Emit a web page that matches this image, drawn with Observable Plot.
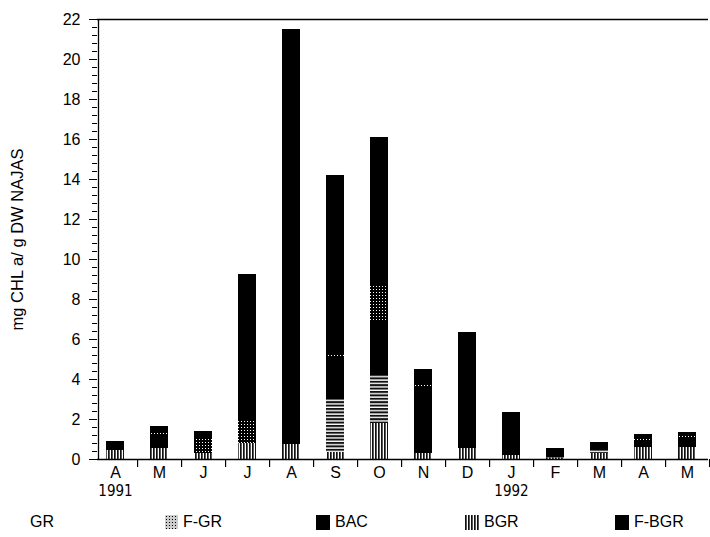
<!DOCTYPE html>
<html>
<head>
<meta charset="utf-8">
<script src="https://cdn.jsdelivr.net/npm/d3@7"></script>
<script src="https://cdn.jsdelivr.net/npm/@observablehq/plot@0.6"></script>
<style>
  html, body { margin: 0; padding: 0; background: #fff; }
  #wrap { position: relative; width: 710px; height: 537px; font-family: "Liberation Sans", Arial, sans-serif; }
  #legend { position: absolute; left: 0; top: 510px; width: 710px; height: 26px; font-size: 16px; color: #000; }
  .item { position: absolute; top: 3px; display: flex; align-items: center; gap: 5px; }
  .item svg { display: block; }
</style>
</head>
<body>
<div id="wrap"><div id="chart"></div><div id="legend"></div></div>
<script>
// ---- data ----
const monthKeys = ["1991-04","1991-05","1991-06","1991-07","1991-08","1991-09","1991-10","1991-11","1991-12","1992-01","1992-02","1992-03","1992-04","1992-05"];
const monthLabels = ["A","M","J","J","A","S","O","N","D","J","F","M","A","M"];
const yearLabels = [{key: "1991-04", text: "1991"}, {key: "1992-01", text: "1992"}];
const yAxisTitle = ["mg CHL a/ g DW NAJAS"];
const seriesOrder = ["BGR", "GR", "BAC", "F-GR", "F-BGR"];
const bgr  = [0.45, 0.55, 0.30, 0.80, 0.75, 0.35, 1.80, 0.30, 0.55, 0.20, 0.08, 0.30, 0.60, 0.60];
const gr   = [0,    0,    0,    0,    0,    2.65, 2.40, 0,    0,    0,    0,    0.15, 0,    0   ];
const bac  = [0,    0.70, 0,    0,    0,    2.10, 2.65, 3.30, 0,    0,    0.22, 0,    0.35, 0.45];
const fgr  = [0,    0.10, 0.75, 1.15, 0,    0.15, 1.85, 0.10, 0,    0,    0.05, 0,    0.10, 0.10];
const fbgr = [0.45, 0.30, 0.35, 7.30, 20.75, 8.95, 7.40, 0.80, 5.80, 2.15, 0.20, 0.40, 0.20, 0.20];
const legendNames = ["GR", "F-GR", "BAC", "BGR", "F-BGR"];
const yTicks = d3.range(0, 23, 2);
const yMinor = d3.range(0, 110).map(i => i * 0.4).filter(v => v <= 22.001);

// ---- table ----
const valuesBySeries = {"BGR": bgr, "GR": gr, "BAC": bac, "F-GR": fgr, "F-BGR": fbgr};
const table = [];
for (const s of seriesOrder) {
  monthKeys.forEach((m, i) => table.push({month: m, series: s, value: valuesBySeries[s][i]}));
}
const fills = {"BGR": "url(#pBGR)", "GR": "url(#pGR)", "BAC": "#000", "F-GR": "url(#pFGR)", "F-BGR": "#000"};
const labelOf = new Map(monthKeys.map((k, i) => [k, monthLabels[i]]));

function defsMark() {
  const defs = d3.create("svg:defs");
  const p1 = defs.append("pattern").attr("id", "pBGR").attr("patternUnits", "userSpaceOnUse").attr("width", 3).attr("height", 3);
  p1.append("rect").attr("width", 3).attr("height", 3).attr("fill", "#fff");
  p1.append("rect").attr("width", 1.7).attr("height", 3).attr("fill", "#111");
  const p2 = defs.append("pattern").attr("id", "pGR").attr("patternUnits", "userSpaceOnUse").attr("width", 3).attr("height", 3.4);
  p2.append("rect").attr("width", 3).attr("height", 3.4).attr("fill", "#fff");
  p2.append("rect").attr("width", 3).attr("height", 2).attr("fill", "#111");
  const p3 = defs.append("pattern").attr("id", "pFGR").attr("patternUnits", "userSpaceOnUse").attr("width", 3).attr("height", 3);
  p3.append("rect").attr("width", 3).attr("height", 3).attr("fill", "#000");
  p3.append("rect").attr("x", 1).attr("y", 1).attr("width", 1).attr("height", 1).attr("fill", "#fff");
  return defs.node();
}

const chart = Plot.plot({
  width: 710,
  height: 507,
  marginLeft: 97,
  marginRight: 2,
  marginTop: 19,
  marginBottom: 48,
  style: {fontFamily: "'Liberation Sans', Arial, sans-serif", fontSize: "15px", color: "#000", background: "#fff"},
  x: {domain: monthKeys, range: [105, 697], paddingInner: 0.59, paddingOuter: 0, axis: null},
  y: {domain: [0, 22], axis: null},
  color: {domain: seriesOrder, range: seriesOrder.map(s => fills[s])},
  marks: [
    defsMark,
    Plot.barY(table, {x: "month", y: "value", fill: "series"}),
    Plot.ruleY([0, 22], {stroke: "#000", strokeWidth: 1.3}),
    Plot.ruleX([monthKeys[0]], {x: d => d, dx: -17, y1: 0, y2: 22, stroke: "#000", strokeWidth: 1.3}),
    Plot.ruleX(monthKeys, {x: d => d, dx: 22.07, y1: 0, y2: -0.4, stroke: "#000", strokeWidth: 1.2}),
    Plot.axisY({ticks: yTicks, tickSize: 8, tickPadding: 9, fontSize: 16, label: null}),
    Plot.axisY({ticks: yMinor, tickSize: 5, tickFormat: () => "", label: null}),
    Plot.axisX({tickSize: 0, tickPadding: 7, fontSize: 16, tickFormat: d => labelOf.get(d), label: null}),
    Plot.text(yAxisTitle, {frameAnchor: "left", textAnchor: "middle", lineAnchor: "middle", rotate: -90, dx: -80, fontSize: 16.5}),
    Plot.text(yearLabels, {x: "key", y: () => 0, text: "text", dy: 32, fontSize: 15, fontFamily: "'Liberation Sans Narrow', 'DejaVu Sans Condensed', sans-serif"})
  ]
});
document.getElementById("chart").appendChild(chart);

// ---- legend ----
const legendLeft = [30, 165, 316, 465, 615];
const legendSwatch = {
  "GR": null,
  "F-GR": '<svg width="13" height="14"><defs><pattern id="lgFGR" patternUnits="userSpaceOnUse" width="3" height="3"><rect width="3" height="3" fill="#ccc"/><rect x="1" y="1" width="1" height="1" fill="#000"/></pattern></defs><rect width="13" height="14" fill="url(#lgFGR)"/></svg>',
  "BAC": '<svg width="14" height="15"><rect width="14" height="15" fill="#000"/></svg>',
  "BGR": '<svg width="14" height="15"><rect width="14" height="15" fill="url(#pBGR)"/></svg>',
  "F-BGR": '<svg width="14" height="15"><rect width="14" height="15" fill="#000"/></svg>'
};
const legend = document.getElementById("legend");
legendNames.forEach((name, i) => {
  const div = document.createElement("div");
  div.className = "item";
  div.style.left = legendLeft[i] + "px";
  div.innerHTML = (legendSwatch[name] || "") + "<span>" + name + "</span>";
  legend.appendChild(div);
});
</script>
</body>
</html>
